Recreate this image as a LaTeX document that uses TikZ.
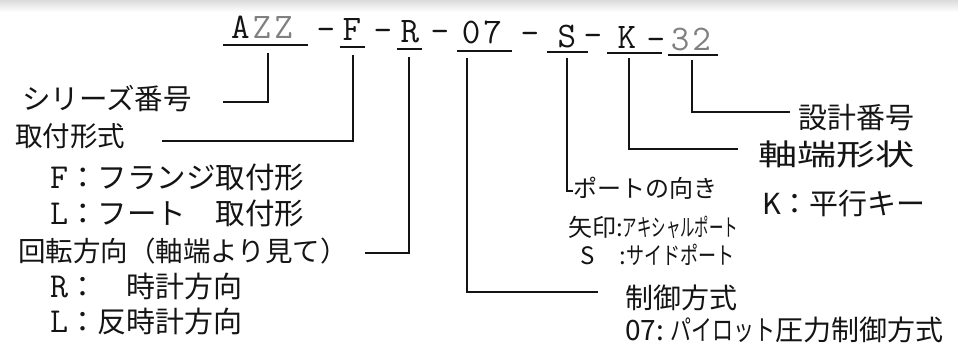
\documentclass[tikz,border=0pt]{standalone}
\usepackage{fontspec}
\usepackage{graphicx}
\setmainfont{Noto Sans CJK JP}
\newcommand\fsz[1]{\fontsize{#1}{#1}\selectfont}
\newcommand\twfont{\ttfamily\addfontfeature{FakeBold=1.5}}
\newcommand\tw[1]{{\twfont\fsz{35}#1}}
\definecolor{pencil}{gray}{0.5}
\definecolor{ink}{gray}{0.08}
\tikzset{
  code/.style={font=\twfont\fsz{36}, inner sep=0pt, anchor=base, text=ink},
  lab/.style={inner sep=0pt, anchor=base west, text=ink},
  conn/.style={line width=1.6pt, draw=ink},
  uline/.style={line width=1.8pt, draw=ink}
}
\begin{document}
\begin{tikzpicture}[x=1pt, y=-1pt]
\useasboundingbox (0,0) rectangle (958,359);
\fill[white] (0,0) rectangle (958,359);
\shade[top color=black!14, bottom color=white] (0,0) rectangle (958,12);

% code line
\node[code] (c1) at (262,38) {A\hspace{3pt}{\color{pencil}Z\hspace{3pt}Z}};
\node[code] (d1) at (326,40) {–};
\node[code] (c2) at (352,40) {F};
\node[code] (d2) at (383,41) {–};
\node[code] (c3) at (410,42) {R};
\node[code] (d3) at (440,42) {–};
\node[code] (c4) at (482,43) {0\hspace{3pt}7};
\node[code] (d4) at (530,44) {–};
\node[code] (c5) at (567,47) {S};
\node[code] (d5) at (593,46) {-};
\node[code] (c6) at (627,48) {K};
\node[code] (d6) at (656,50) {-};
\node[code, text=pencil] (c7) at (691,50) {3\hspace{3pt}2};

% underlines
\draw[uline] (223,45) -- (308,45);
\draw[uline] (340,47) -- (365,47);
\draw[uline] (397,49) -- (422,49);
\draw[uline] (457,51) -- (512,51);
\draw[uline] (547,52) -- (588,52);
\draw[uline] (607,53) -- (662,53);
\draw[uline] (668,55) -- (718,55);

% left labels
\node[lab, font=\fsz{28.5}] (l1) at (22,109) {シリーズ番号};
\node[lab, font=\fsz{27.5}] (l2) at (15,146) {取付形式};
\node[lab, font=\fsz{29.5}] (l2a) at (50,188) {\tw{F}：フランジ取付形};
\node[lab, font=\fsz{29.5}] (l2b) at (50,224) {\tw{L}：フート　取付形};
\node[lab, font=\fsz{27.5}] (l3) at (18,261) {回転方向（軸端より見て）};
\node[lab, font=\fsz{29}] (l3a) at (50,297) {\tw{R}：　時計方向};
\node[lab, font=\fsz{29}] (l3b) at (50,332) {\tw{L}：反時計方向};

% right labels
\node[lab, font=\fsz{29}] (l7) at (798,128) {設計番号};
\node[lab, font=\fsz{28}] (l6) at (758,165) {\scalebox{1.4}[1.05]{軸端形状}};
\node[lab, font=\fsz{29}] (l6a) at (762,214) {K：平行キー};
\node[lab, font=\fsz{24}] (l5) at (573,197) {ポートの向き};
\node[lab, font=\fsz{24}] (l5a) at (568,236) {矢印:\scalebox{0.6}[1]{アキシャルポート}};
\node[lab, font=\fsz{24}] (l5b) at (580,264) {S\hspace{25pt}:\scalebox{0.75}[1]{サイドポート}};
\node[lab, font=\fsz{28}] (l4) at (625,308) {制御方式};
\node[lab, font=\fsz{28}] (l4a) at (625,340) {07:\hspace{6pt}\scalebox{0.75}[1]{パイロット}圧力制御方式};

% connectors
\coordinate (t1) at (268,53);  \coordinate (e1) at (223,102);
\coordinate (t2) at (353,55);  \coordinate (e2) at (162,141);
\coordinate (t3) at (409,57);  \coordinate (e3) at (365,253);
\coordinate (t4) at (467,58);  \coordinate (e4) at (598,292);
\coordinate (t5) at (567,58);  \coordinate (e5) at (573,191);
\coordinate (t6) at (629,58);  \coordinate (e6) at (738,149);
\coordinate (t7) at (692,60);  \coordinate (e7) at (790,112);
\draw[conn] (t1) |- (e1);
\draw[conn] (t2) |- (e2);
\draw[conn] (t3) |- (e3);
\draw[conn] (t4) |- (e4);
\draw[conn] (t5) |- (e5);
\draw[conn] (t6) |- (e6);
\draw[conn] (t7) |- (e7);
\end{tikzpicture}
\end{document}
